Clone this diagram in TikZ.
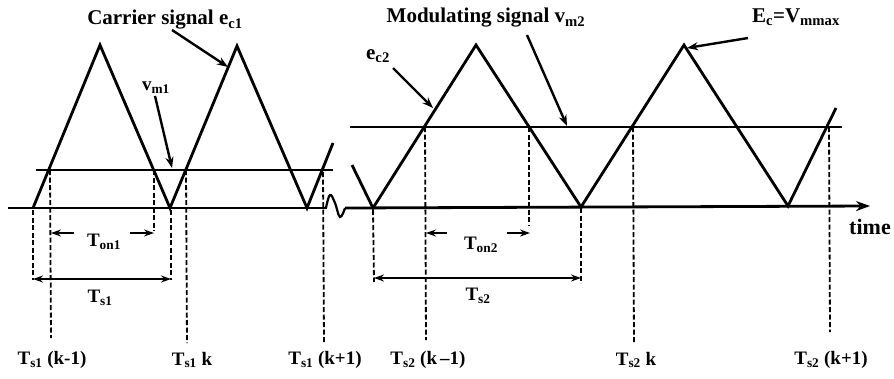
\documentclass[tikz,border=0pt]{standalone}
\usepackage{fontspec}
\setmainfont{Liberation Serif}
\usetikzlibrary{arrows.meta}
\begin{document}
\begin{tikzpicture}[x=1pt,y=-1pt,
  wave/.style={line width=2.8pt, line join=miter},
  guide/.style={line width=1.8pt, dash pattern=on 5pt off 2.5pt},
  lbl/.style={font=\fontsize{19}{21}\selectfont\bfseries, inner sep=0pt},
  big/.style={font=\fontsize{21}{23}\selectfont\bfseries, inner sep=0pt},
  pointer/.style={line width=2.4pt, -{Stealth[length=11pt,width=8pt]}},
  halfdim/.style={line width=2.2pt, -{Stealth[length=10pt,width=7pt]}},
  dim/.style={line width=2.2pt, {Stealth[length=10pt,width=7pt]}-{Stealth[length=10pt,width=7pt]}},
]
\useasboundingbox (0,0) rectangle (894,378);

% ---- axes
\coordinate (axL0) at (8,208);
\coordinate (axL1) at (327,208);
\coordinate (axR0) at (345,208);
\coordinate (axR1) at (870,206);
\draw[wave] (axL0) -- (axL1);
\draw[wave, -{Stealth[length=14pt,width=10pt]}] (axR0) -- (axR1);
\draw[line width=2.2pt] plot[smooth, tension=0.7] coordinates {(326,208) (330,195) (335,203) (340,217) (345,208)};
\node[big, font=\fontsize{22}{24}\selectfont\bfseries] (time) at (870,227) {time};

% ---- left carrier and modulating signal
\coordinate (a0) at (33,208);
\coordinate (a1) at (100,45);
\coordinate (a2) at (170,208);
\coordinate (a3) at (237,46);
\coordinate (a4) at (307,208);
\coordinate (a5) at (333,143);
\draw[wave] (a0) -- (a1) -- (a2) -- (a3) -- (a4) -- (a5);
\coordinate (m10) at (36,170);
\coordinate (m11) at (333,170);
\draw[wave] (m10) -- (m11);

% ---- right carrier and modulating signal
\coordinate (b0) at (352,165);
\coordinate (b1) at (373,208);
\coordinate (b2) at (476,45);
\coordinate (b3) at (581,207);
\coordinate (b4) at (684,45);
\coordinate (b5) at (788,206);
\coordinate (b6) at (836,108);
\draw[wave] (b0) -- (b1) -- (b2) -- (b3) -- (b4) -- (b5) -- (b6);
\coordinate (m20) at (350,127);
\coordinate (m21) at (842,127);
\draw[wave] (m20) -- (m21);

% ---- dashed guides (left)
\draw[guide] (33,210) -- (33,280);
\draw[guide] (50,170) -- (51,338);
\draw[guide] (154,170) -- (154,231);
\draw[guide] (171,210) -- (171,280);
\draw[guide] (186,170) -- (187,343);
\draw[guide] (323,172) -- (324,343);
% ---- dashed guides (right)
\draw[guide] (373,210) -- (374,282);
\draw[guide] (425,127) -- (426,340);
\draw[guide] (529,127) -- (529,226);
\draw[guide] (581,208) -- (581,283);
\draw[guide] (633,127) -- (634,344);
\draw[guide] (829,127) -- (830,332);

% ---- dimension arrows
\coordinate (on1L) at (51,233);
\coordinate (on1La) at (74,233);
\coordinate (on1Ra) at (130,233);
\coordinate (on1R) at (154,233);
\draw[halfdim] (on1La) -- (on1L);
\draw[halfdim] (on1Ra) -- (on1R);
\node[lbl] (ton1) at (104,242) {T\textsubscript{on1}};

\coordinate (s1L) at (33,279);
\coordinate (s1R) at (171,279);
\draw[dim] (s1L) -- (s1R);
\node[lbl] (ts1) at (100,298) {T\textsubscript{s1}};

\coordinate (on2L) at (426,233);
\coordinate (on2La) at (447,233);
\coordinate (on2Ra) at (507,233);
\coordinate (on2R) at (530,233);
\draw[halfdim] (on2La) -- (on2L);
\draw[halfdim] (on2Ra) -- (on2R);
\node[lbl] (ton2) at (481,245) {T\textsubscript{on2}};

\coordinate (s2L) at (374,278);
\coordinate (s2R) at (581,278);
\draw[dim] (s2L) -- (s2R);
\node[lbl] (ts2) at (478,296) {T\textsubscript{s2}};

% ---- bottom labels
\node[lbl] (t1) at (52,360) {T\textsubscript{s1} (k-1)};
\node[lbl] (t2) at (192,360) {T\textsubscript{s1} k};
\node[lbl] (t3) at (325,360) {T\textsubscript{s1} (k+1)};
\node[lbl] (t4) at (428,360) {T\textsubscript{s2} (k\,--1)};
\node[lbl] (t5) at (636,360) {T\textsubscript{s2} k};
\node[lbl] (t6) at (831,360) {T\textsubscript{s2} (k+1)};

% ---- top labels with pointers
\node[big] (carrier) at (165,20) {Carrier signal e\textsubscript{c1}};
\coordinate (pc) at (228,67);
\draw[pointer] (172,30) -- (pc);

\node[lbl] (vm1) at (156,88) {v\textsubscript{m1}};
\coordinate (pv1) at (172,168);
\draw[pointer] (vm1.south) ++(-1,2) -- (pv1);

\node[big] (ec2) at (378,56) {e\textsubscript{c2}};
\coordinate (pe2) at (433,108);
\draw[pointer] (393,68) -- (pe2);

\node[big] (mod) at (486,18) {Modulating signal v\textsubscript{m2}};
\coordinate (pm2) at (567,126);
\draw[pointer] (527,35) -- (pm2);

\node[big] (ec) at (796,17) {E\textsubscript{c}=V\textsubscript{mmax}};
\coordinate (pec) at (687,48);
\draw[pointer] (748,38) -- (pec);
\end{tikzpicture}
\end{document}
